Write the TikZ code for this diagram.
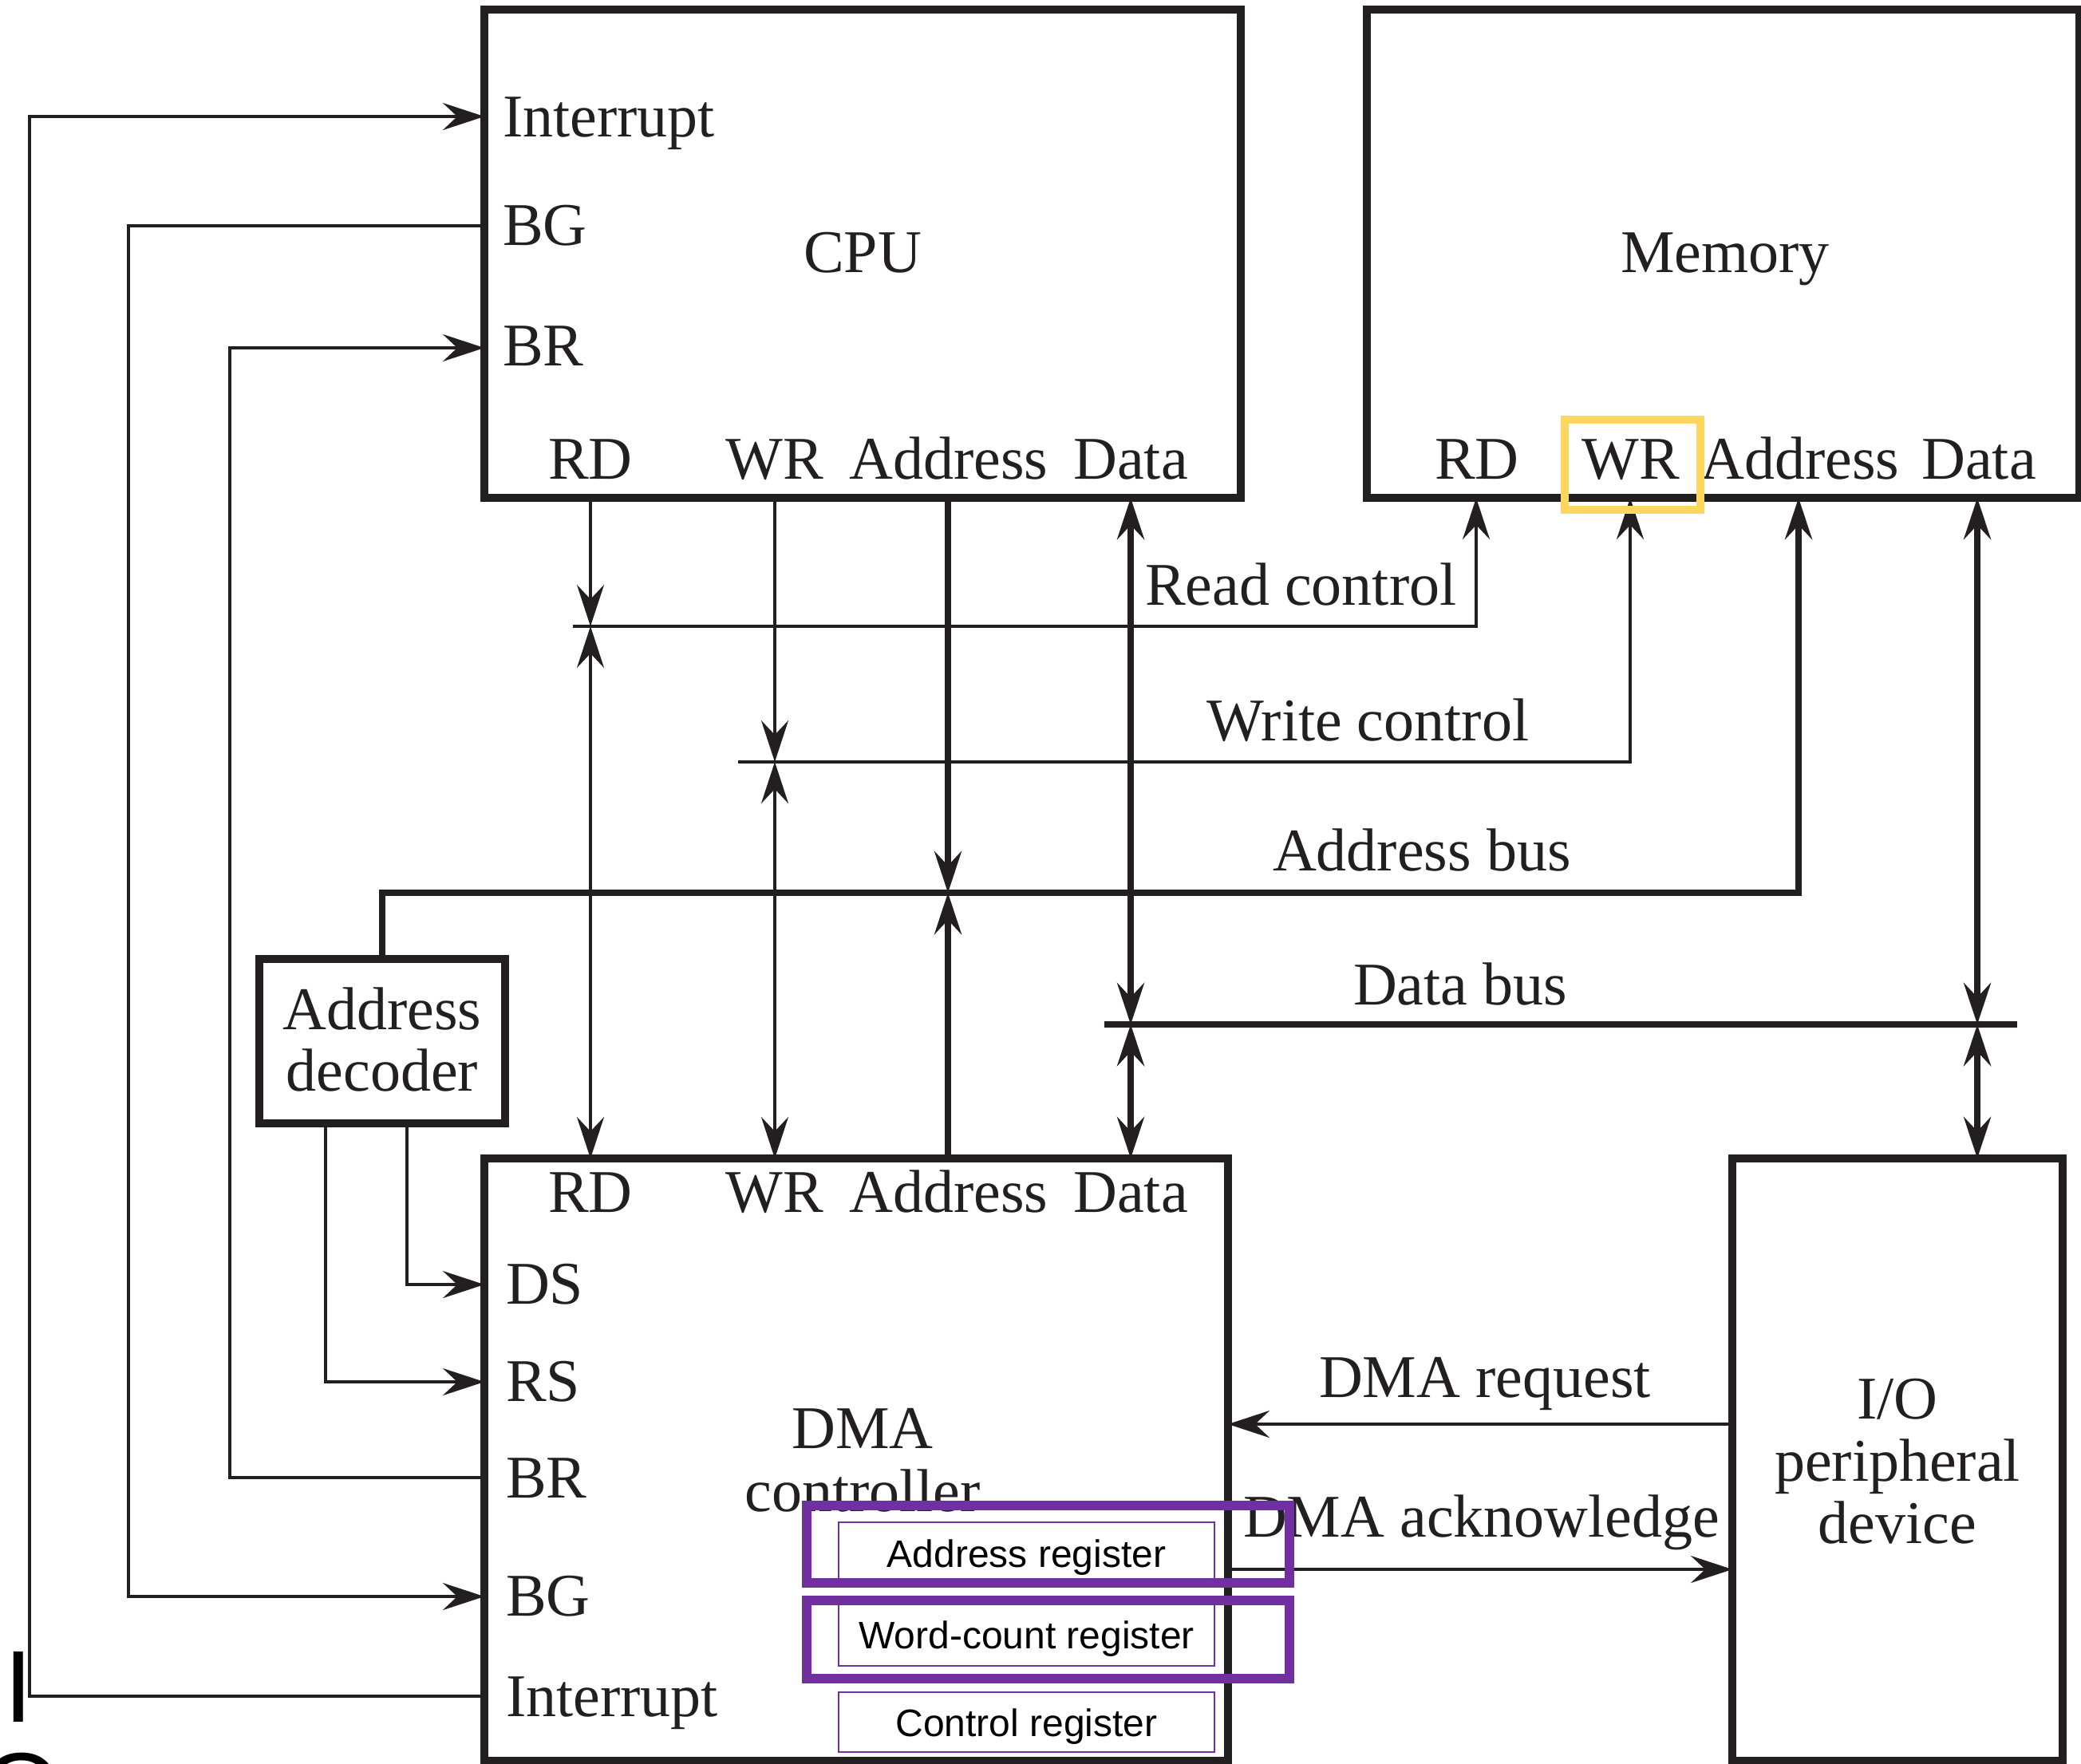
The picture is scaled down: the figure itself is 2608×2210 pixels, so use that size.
\documentclass[tikz,border=0pt]{standalone}
\usepackage{fontspec}
\setmainfont{Liberation Serif}
\newfontfamily\regfont{Liberation Sans}
\usetikzlibrary{arrows.meta,fit}

\definecolor{ink}{RGB}{35,31,32}
\definecolor{hlpurple}{RGB}{112,48,160}
\definecolor{hlyellow}{RGB}{255,215,95}

\begin{document}
\begin{tikzpicture}[x=0.25pt,y=-0.25pt,
  >={Stealth[length=13pt,width=8.5pt,inset=4.5pt]},
  box/.style={draw=ink,line width=2.3pt,inner sep=0pt,outer sep=0pt},
  sig/.style={draw=ink,line width=1pt},
  bus/.style={draw=ink,line width=1.9pt},
  lbl/.style={text=ink,inner sep=0pt,outer sep=0pt,
              font=\fontsize{19}{22}\selectfont},
  regbox/.style={draw=hlpurple,line width=0.6pt,inner sep=0pt},
  regtxt/.style={font=\regfont\fontsize{12}{14}\selectfont,text=black,
                 inner sep=0pt,anchor=base},
  hlbox/.style={draw=hlpurple,line width=2.9pt,inner sep=0pt},
  bigsans/.style={font=\regfont\fontsize{32}{32}\selectfont,text=black,
                  inner sep=0pt,anchor=base}]

\useasboundingbox (0,0) rectangle (2608,2210);

% ---- main blocks ----
\node[box,fit={(607,12) (1555,624)}] (cpu) {};
\node[box,fit={(1713,12) (2606,624)}] (mem) {};
\node[box,fit={(325,1202) (633,1408)}] (dec) {};
\node[box,fit={(607,1452) (1539,2207)}] (dma) {};
\node[box,fit={(2171,1452) (2585,2207)}] (io) {};

% ---- CPU texts ----
\node[lbl,anchor=base] (cpuname) at (1081,341) {CPU};
\node[lbl,anchor=base west] (cpuint) at (630,171) {Interrupt};
\node[lbl,anchor=base west] (cpubg) at (630,307) {BG};
\node[lbl,anchor=base west] (cpubr) at (630,458) {BR};
\node[lbl,anchor=base] (cpurd) at (740,600) {RD};
\node[lbl,anchor=base] (cpuwr) at (971,600) {WR};
\node[lbl,anchor=base] (cpuad) at (1189,600) {Address};
\node[lbl,anchor=base] (cpuda) at (1417,600) {Data};

% ---- memory texts ----
\node[lbl,anchor=base] (memname) at (2162,341) {Memory};
\node[lbl,anchor=base] (memrd) at (1851,600) {RD};
\node[lbl,anchor=base] (memwr) at (2044,600) {WR};
\node[lbl,anchor=base] (memad) at (2256,600) {Address};
\node[lbl,anchor=base] (memda) at (2480,600) {Data};

% ---- address decoder ----
\node[lbl,anchor=base] (decl1) at (479,1290) {Address};
\node[lbl,anchor=base] (decl2) at (479,1367) {decoder};

% ---- DMA controller texts ----
\node[lbl,anchor=base] (dmard) at (740,1519) {RD};
\node[lbl,anchor=base] (dmawr) at (971,1519) {WR};
\node[lbl,anchor=base] (dmaad) at (1189,1519) {Address};
\node[lbl,anchor=base] (dmada) at (1417,1519) {Data};
\node[lbl,anchor=base west] (dmads) at (634,1634) {DS};
\node[lbl,anchor=base west] (dmars) at (634,1756) {RS};
\node[lbl,anchor=base west] (dmabr) at (634,1877) {BR};
\node[lbl,anchor=base west] (dmabg) at (634,2025) {BG};
\node[lbl,anchor=base west] (dmaint) at (634,2151) {Interrupt};
\node[lbl,anchor=base] (dmal1) at (1081,1815) {DMA};
\node[lbl,anchor=base] (dmal2) at (1081,1894) {controller};

% ---- I/O device texts ----
\node[lbl,anchor=base] (iol1) at (2378,1778) {I/O};
\node[lbl,anchor=base] (iol2) at (2378,1856) {peripheral};
\node[lbl,anchor=base] (iol3) at (2378,1934) {device};

% ---- bus and line labels ----
\node[lbl,anchor=base west] (rctl) at (1435,758) {Read control};
\node[lbl,anchor=base west] (wctl) at (1512,928) {Write control};
\node[lbl,anchor=base west] (abus) at (1595,1091) {Address bus};
\node[lbl,anchor=base west] (dbus) at (1696,1259) {Data bus};
\node[lbl,anchor=base west] (dreq) at (1653,1751) {DMA request};
\node[lbl,anchor=base west] (dack) at (1558,1926) {DMA acknowledge};

% ---- pin and junction coordinates ----
\coordinate (rdC) at (740,624);   \coordinate (rdB) at (740,785);   \coordinate (rdD) at (740,1452);
\coordinate (wrC) at (971,624);   \coordinate (wrB) at (971,955);   \coordinate (wrD) at (971,1452);
\coordinate (adC) at (1188,624);  \coordinate (adB) at (1188,1119); \coordinate (adD) at (1188,1452);
\coordinate (daC) at (1417,624);  \coordinate (daB) at (1417,1284); \coordinate (daD) at (1417,1452);
\coordinate (rdM) at (1850,624);  \coordinate (wrM) at (2043,624);
\coordinate (adM) at (2254,624);  \coordinate (adMB) at (2254,1119);
\coordinate (daM) at (2478,624);  \coordinate (daMB) at (2478,1284); \coordinate (daIO) at (2478,1452);
\coordinate (rdL) at (718,785);   \coordinate (wrL) at (925,955);
\coordinate (dbL) at (1384,1284); \coordinate (dbR) at (2528,1284);
\coordinate (cpuIntPin) at (607,146);  \coordinate (cpuBGPin) at (607,283);  \coordinate (cpuBRPin) at (607,436);
\coordinate (dmaDSPin) at (607,1610);  \coordinate (dmaRSPin) at (607,1732); \coordinate (dmaBRPin) at (607,1852);
\coordinate (dmaBGPin) at (607,2001);  \coordinate (dmaIntPin) at (607,2126);
\coordinate (decRS) at (408,1408);     \coordinate (decDS) at (510,1408);
\coordinate (ioReq) at (2171,1785);    \coordinate (dmaReq) at (1539,1785);
\coordinate (dmaAck) at (1539,1967);   \coordinate (ioAck) at (2171,1967);

% ---- control lines CPU/DMA to memory ----
\draw[sig,->] (rdC) -- (rdB);
\draw[sig,<->] (rdB) -- (rdD);
\draw[sig,->] (wrC) -- (wrB);
\draw[sig,<->] (wrB) -- (wrD);
\draw[sig,->] (rdL) -| (rdM);
\draw[sig,->] (wrL) -| (wrM);

% ---- address and data buses ----
\draw[bus,->] (adC) -- (adB);
\draw[bus,->] (adD) -- (adB);
\draw[bus,->] (dec.north) |- (adMB) -- (adM);
\draw[bus,<->] (daC) -- (daB);
\draw[bus,<->] (daB) -- (daD);
\draw[bus] (dbL) -- (dbR);
\draw[bus,<->] (daM) -- (daMB);
\draw[bus,<->] (daMB) -- (daIO);

% ---- bus arbitration and interrupt loops ----
\draw[sig,->] (dmaIntPin) -- ++(-570,0) |- (cpuIntPin);
\draw[sig,->] (cpuBGPin) -- ++(-446,0) |- (dmaBGPin);
\draw[sig,->] (dmaBRPin) -- ++(-319,0) |- (cpuBRPin);

% ---- decoder selects ----
\draw[sig,->] (decRS) |- (dmaRSPin);
\draw[sig,->] (decDS) |- (dmaDSPin);

% ---- DMA handshake ----
\draw[sig,->] (ioReq) -- (dmaReq);
\draw[sig,->] (dmaAck) -- (ioAck);

% ---- DMA registers ----
\node[regbox,fit={(1051,1908) (1522,1984)}] (areg) {};
\node[regbox,fit={(1051,2009) (1522,2088)}] (wreg) {};
\node[regbox,fit={(1051,2121) (1522,2196)}] (creg) {};
\node[regtxt] (aregt) at ([yshift=-4.5pt]areg.center) {Address register};
\node[regtxt] (wregt) at ([yshift=-4.5pt]wreg.center) {Word-count register};
\node[regtxt] (cregt) at ([yshift=-4.5pt]creg.center) {Control register};

% ---- highlight frames ----
\node[hlbox,fit={(1011,1887) (1616,1984)}] (hlA) {};
\node[hlbox,fit={(1011,2006) (1616,2104)}] (hlW) {};
\node[draw=hlyellow,line width=2.5pt,inner sep=0pt,fit={(1961,526) (2131,639)}] (hlWR) {};

% ---- margin letters ----
\node[bigsans] (mI) at (23,2158) {I};
\node[bigsans] (mO) at (27,2286) {O};

\end{tikzpicture}
\end{document}
